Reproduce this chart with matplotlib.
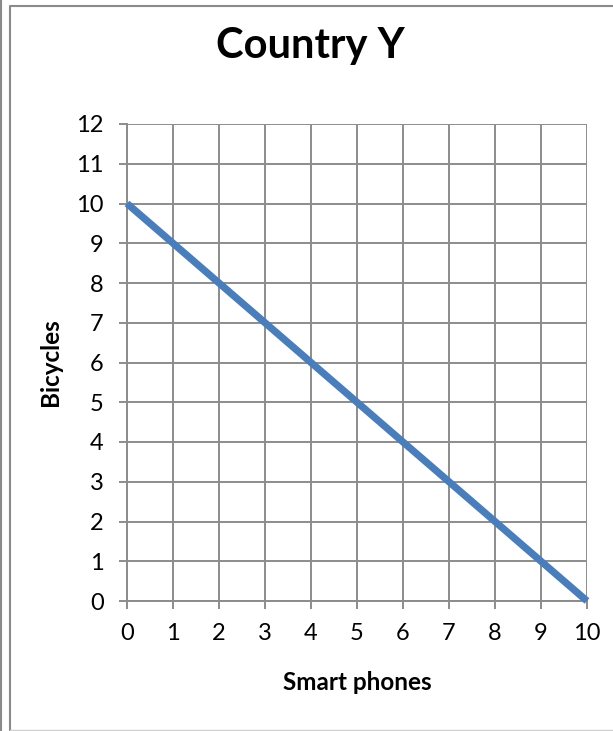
import matplotlib.pyplot as plt
from matplotlib.lines import Line2D

plt.rcParams['font.family'] = ['Lato', 'DejaVu Sans']

# data
smart_phones = [0, 10]
bicycles = [10, 0]
x_ticks = list(range(0, 11))
y_ticks = list(range(0, 13))

fig = plt.figure(figsize=(6.13, 7.31), dpi=100)
W, H = 613, 731

# plot area in pixel coordinates (left, top, right, bottom)
left, top, right, bottom = 127, 124, 587, 601
ax = fig.add_axes([left / W, 1 - bottom / H, (right - left) / W, (bottom - top) / H])

grid_col = '#8c8c8c'
ax.plot(smart_phones, bicycles, color='#4A7EBB', linewidth=5.2,
        solid_capstyle='butt', zorder=3, clip_on=False)

ax.set_xlim(0, 10)
ax.set_ylim(0, 12)
ax.set_xticks(x_ticks)
ax.set_yticks(y_ticks)
ax.grid(True, color=grid_col, linewidth=1.4)
ax.set_axisbelow(True)
for side in ['top', 'right']:
    ax.spines[side].set_visible(False)
for side in ['left', 'bottom']:
    ax.spines[side].set_color(grid_col)
    ax.spines[side].set_linewidth(1.4)
ax.tick_params(axis='both', colors=grid_col, length=5.8, width=1.4,
               labelcolor='black', labelsize=17)
ax.tick_params(axis='x', pad=10)
ax.tick_params(axis='y', pad=11)

fig.text(310 / W, 1 - 46 / H, 'Country Y', ha='center', va='center',
         fontsize=30, fontweight='bold')
fig.text(357 / W, 1 - 683 / H, 'Smart phones', ha='center', va='center',
         fontsize=17.5, fontweight='bold')
fig.text(50 / W, 1 - 362 / H, 'Bicycles', ha='center', va='center',
         rotation=90, fontsize=17.5, fontweight='bold')

# outer frames
fig.add_artist(Line2D([1.5 / W, 1.5 / W], [0, 1], color='#8a8a8a', linewidth=1.5))
fig.add_artist(Line2D([10 / W, 10 / W, 1], [0, 1 - 5.5 / H, 1 - 5.5 / H],
                      color='#8a8a8a', linewidth=1.5))
fig.add_artist(Line2D([10 / W, 1], [1 - 729.5 / H, 1 - 729.5 / H],
                      color='#d0d0d0', linewidth=1.0))

fig.savefig('out.png', dpi=100)
